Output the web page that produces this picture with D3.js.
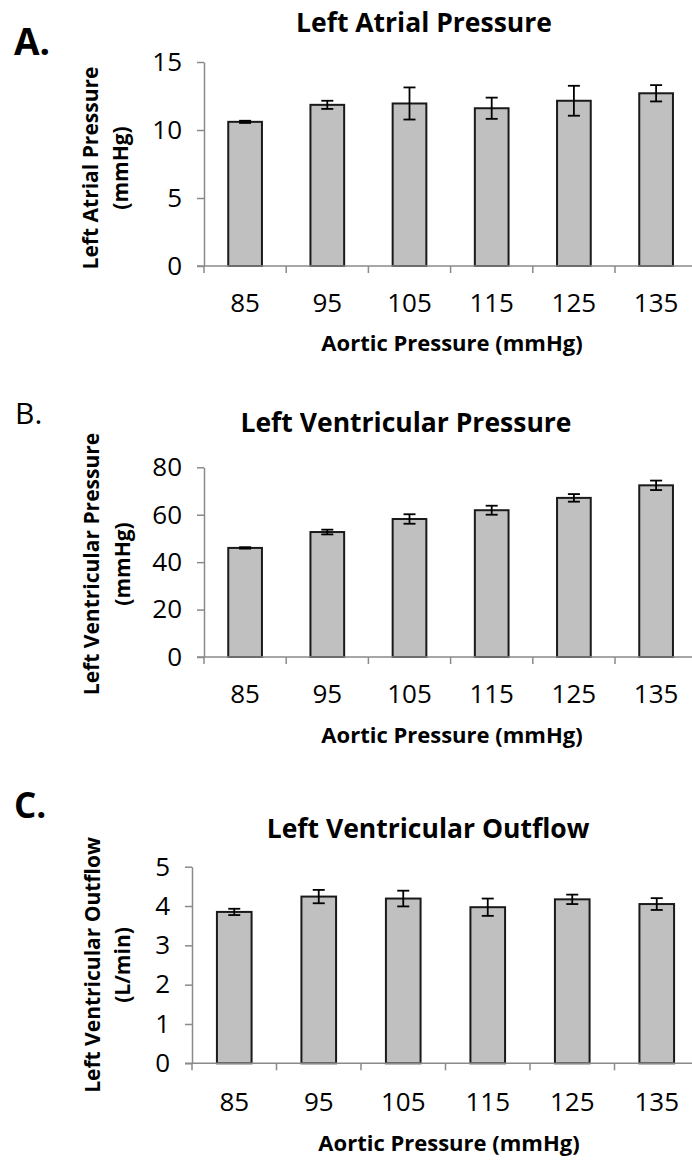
<!DOCTYPE html>
<html>
<head>
<meta charset="utf-8">
<script src="https://cdn.jsdelivr.net/npm/d3@7"></script>
<style>
  html, body { margin: 0; padding: 0; background: #fff; }
  svg { display: block; }
  text { font-family: "Open Sans", "Liberation Sans", sans-serif; fill: #000; }
</style>
</head>
<body>
<svg id="chart" width="692" height="1161"></svg>
<script>
// Aortic pressure settings (x categories), shared by all three panels
const categories = ["85", "95", "105", "115", "125", "135"];

// A. Left atrial pressure (mmHg): mean and error
const atrialMean = [10.6, 11.85, 11.95, 11.6, 12.15, 12.7];
const atrialErr  = [0.08, 0.3, 1.18, 0.78, 1.1, 0.6];
const atrialTicks = [0, 5, 10, 15];

// B. Left ventricular pressure (mmHg): mean and error
const ventPressMean = [46.0, 52.7, 58.2, 61.9, 67.1, 72.4];
const ventPressErr  = [0.3, 1.0, 2.0, 1.9, 1.6, 2.0];
const ventPressTicks = [0, 20, 40, 60, 80];

// C. Left ventricular outflow (L/min): mean and error
const outflowMean = [3.85, 4.24, 4.19, 3.97, 4.17, 4.05];
const outflowErr  = [0.08, 0.17, 0.2, 0.22, 0.12, 0.15];
const outflowTicks = [0, 1, 2, 3, 4, 5];

const xTitle = "Aortic Pressure (mmHg)";

const svg = d3.select("#chart");

function drawPanel(p) {
  const g = svg.append("g");

  const x = d3.scaleBand()
    .domain(categories)
    .range([p.left, p.left + p.step * categories.length])
    .paddingInner(0.59)
    .paddingOuter(0.295);

  const y = d3.scaleLinear()
    .domain([0, d3.max(p.ticks)])
    .range([p.bottom, p.top]);

  // panel letter
  g.append("text")
    .attr("x", p.letterX).attr("y", p.letterY)
    .attr("font-size", p.letterSize)
    .attr("font-weight", p.letterBold ? "bold" : "normal")
    .text(p.letter);

  // chart title
  g.append("text")
    .attr("x", p.titleX).attr("y", p.titleY)
    .attr("text-anchor", "middle")
    .attr("font-size", 26.5).attr("font-weight", "bold")
    .text(p.title);

  // y-axis title (two lines, rotated)
  p.yLabel.forEach((line, i) => {
    g.append("text")
      .attr("transform", `translate(${p.yLabelX[i]},${p.yLabelMid}) rotate(-90)`)
      .attr("text-anchor", "middle")
      .attr("font-size", 21).attr("font-weight", "bold")
      .text(line);
  });

  // bars
  const data = categories.map((c, i) => ({ c, v: p.mean[i], e: p.err[i] }));
  g.selectAll("rect.bar").data(data).join("rect")
    .attr("class", "bar")
    .attr("x", d => x(d.c))
    .attr("width", x.bandwidth())
    .attr("y", d => y(d.v))
    .attr("height", d => y(0) - y(d.v))
    .attr("fill", "#c0c0c0")
    .attr("stroke", "#1a1a1a")
    .attr("stroke-width", 2);

  // error bars
  const cx = d => x(d.c) + x.bandwidth() / 2;
  const eb = g.selectAll("g.err").data(data).join("g").attr("class", "err")
    .attr("stroke", "#000").attr("stroke-width", 1.8);
  eb.append("line")
    .attr("x1", cx).attr("x2", cx)
    .attr("y1", d => y(d.v + d.e)).attr("y2", d => y(d.v - d.e));
  eb.append("line")
    .attr("x1", d => cx(d) - 6).attr("x2", d => cx(d) + 6)
    .attr("y1", d => y(d.v + d.e)).attr("y2", d => y(d.v + d.e));
  eb.append("line")
    .attr("x1", d => cx(d) - 6).attr("x2", d => cx(d) + 6)
    .attr("y1", d => y(d.v - d.e)).attr("y2", d => y(d.v - d.e));

  // y axis
  const yAxis = g.append("g")
    .attr("transform", `translate(${p.left},0)`)
    .call(d3.axisLeft(y).tickValues(p.ticks).tickFormat(d3.format("d"))
      .tickSize(7).tickSizeOuter(0).tickPadding(15));
  yAxis.select(".domain").attr("stroke", "#8a8a8a").attr("stroke-width", 1.5);
  yAxis.selectAll(".tick line").attr("stroke", "#8a8a8a").attr("stroke-width", 1.5);
  yAxis.selectAll(".tick text")
    .attr("font-family", "Open Sans, sans-serif")
    .attr("font-size", 26).attr("fill", "#000");

  // x axis: line, ticks between categories, labels centred under bars
  const xAxis = g.append("g").attr("transform", `translate(0,${y(0)})`);
  xAxis.append("line")
    .attr("x1", p.left - 7).attr("x2", 692)
    .attr("stroke", "#8a8a8a").attr("stroke-width", 1.5);
  const bounds = categories.map(c => x(c) - x.step() * x.paddingOuter())
    .concat([x.range()[1]]);
  xAxis.selectAll("line.tk").data(bounds).join("line")
    .attr("class", "tk")
    .attr("x1", d => d).attr("x2", d => d)
    .attr("y1", 0).attr("y2", 7)
    .attr("stroke", "#8a8a8a").attr("stroke-width", 1.5);
  xAxis.selectAll("text.lbl").data(categories).join("text")
    .attr("class", "lbl")
    .attr("x", d => x(d) + x.bandwidth() / 2)
    .attr("y", p.tickLabelDy)
    .attr("text-anchor", "middle")
    .attr("font-size", 26)
    .text(d => d);

  // x-axis title
  g.append("text")
    .attr("x", p.xTitleX).attr("y", y(0) + p.xTitleDy)
    .attr("text-anchor", "middle")
    .attr("font-size", 22).attr("font-weight", "bold")
    .text(xTitle);
}

drawPanel({
  letter: "A.", letterX: 14, letterY: 55, letterSize: 37, letterBold: true,
  title: "Left Atrial Pressure", titleX: 424, titleY: 32,
  yLabel: ["Left Atrial Pressure", "(mmHg)"], yLabelX: [98, 128], yLabelMid: 168,
  mean: atrialMean, err: atrialErr, ticks: atrialTicks,
  left: 204, step: 82.2, top: 62, bottom: 266,
  tickLabelDy: 46, xTitleX: 452, xTitleDy: 85
});

drawPanel({
  letter: "B.", letterX: 15, letterY: 424, letterSize: 30, letterBold: false,
  title: "Left Ventricular Pressure", titleX: 406, titleY: 432,
  yLabel: ["Left Ventricular Pressure", "(mmHg)"], yLabelX: [99, 130], yLabelMid: 564,
  mean: ventPressMean, err: ventPressErr, ticks: ventPressTicks,
  left: 204, step: 82.2, top: 467.3, bottom: 657,
  tickLabelDy: 46, xTitleX: 452, xTitleDy: 86
});

drawPanel({
  letter: "C.", letterX: 14, letterY: 818, letterSize: 35, letterBold: true,
  title: "Left Ventricular Outflow", titleX: 428, titleY: 838,
  yLabel: ["Left Ventricular Outflow", "(L/min)"], yLabelX: [100, 130], yLabelMid: 965,
  mean: outflowMean, err: outflowErr, ticks: outflowTicks,
  left: 192, step: 84.5, top: 866.7, bottom: 1063.3,
  tickLabelDy: 47.5, xTitleX: 449, xTitleDy: 88
});
</script>
</body>
</html>
